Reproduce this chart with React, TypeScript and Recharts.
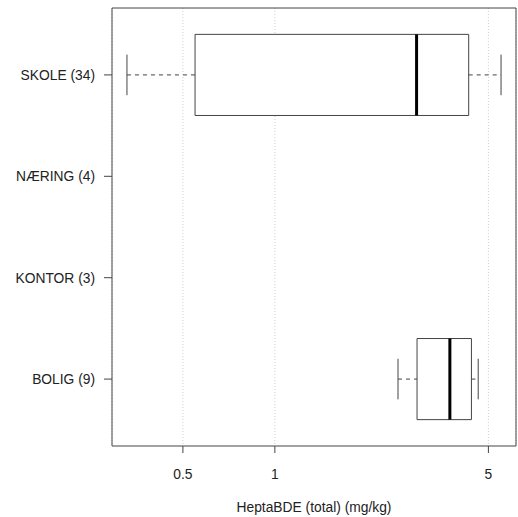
import React from "react";
import {
  ComposedChart,
  XAxis,
  YAxis,
  CartesianGrid,
  ReferenceArea,
  ReferenceLine,
} from "recharts";

// Groups, bottom to top (R puts group 1 at the bottom of a horizontal boxplot)
const groups = ["BOLIG (9)", "KONTOR (3)", "NÆRING (4)", "SKOLE (34)"];

// Box statistics per group, mg/kg (null = no box drawn)
const whiskerLow: (number | null)[] = [2.53, null, null, 0.328];
const q1: (number | null)[] = [2.92, null, null, 0.548];
const median: (number | null)[] = [3.74, null, null, 2.91];
const q3: (number | null)[] = [4.4, null, null, 4.31];
const whiskerHigh: (number | null)[] = [4.63, null, null, 5.5];

const xTicks = [0.5, 1, 5];
const yTicks = [1, 2, 3, 4];

const FONT = "'Liberation Sans', Arial, sans-serif";
const LINE = "#444";
const TEXT = "#222";

// R-style axis range: data range padded by 4% on each side (on the log scale)
const lows = whiskerLow.filter((v): v is number => v !== null);
const highs = whiskerHigh.filter((v): v is number => v !== null);
const logLo = Math.log10(Math.min(...lows));
const logHi = Math.log10(Math.max(...highs));
const pad = (logHi - logLo) * 0.04;
const xDomain: [number, number] = [10 ** (logLo - pad), 10 ** (logHi + pad)];
const yDomain: [number, number] = [0.5 - 0.16, groups.length + 0.5 + 0.16];

const BOX_HALF = 0.4;
const CAP_HALF = 0.2;

export default function App() {
  const boxes = groups
    .map((_, i) => i)
    .filter((i) => median[i] !== null);

  return (
    <div style={{ position: "absolute", left: 0, top: 0, background: "#fff" }}>
      <ComposedChart
        width={518}
        height={517}
        data={[]}
        margin={{ top: 8, right: 2, bottom: 0, left: 0 }}
        style={{ fontFamily: FONT }}
      >
        <CartesianGrid
          horizontal={false}
          stroke="#cfcfcf"
          strokeDasharray="1 2"
        />
        <XAxis
          type="number"
          dataKey="x"
          scale="log"
          domain={xDomain}
          allowDataOverflow
          ticks={xTicks}
          axisLine={false}
          tickLine={{ stroke: LINE }}
          tickSize={7}
          tickMargin={16}
          height={71}
          tick={{ fill: TEXT, fontSize: 13.8, fontFamily: FONT }}
          label={{
            value: "HeptaBDE (total) (mg/kg)",
            position: "insideBottom",
            offset: 5,
            fill: TEXT,
            fontSize: 13.8,
            fontFamily: FONT,
          }}
        />
        <YAxis
          type="number"
          dataKey="y"
          domain={yDomain}
          allowDataOverflow
          ticks={yTicks}
          tickFormatter={(v: number) => groups[v - 1]}
          axisLine={false}
          tickLine={{ stroke: LINE }}
          tickSize={8}
          tickMargin={9}
          width={112}
          tick={{ fill: TEXT, fontSize: 13.8, fontFamily: FONT }}
        />

        {boxes.map((i) => {
          const y = i + 1;
          return (
            <React.Fragment key={groups[i]}>
              {/* whiskers */}
              <ReferenceLine
                segment={[
                  { x: whiskerLow[i]!, y },
                  { x: q1[i]!, y },
                ]}
                stroke={LINE}
                strokeDasharray="4 4"
              />
              <ReferenceLine
                segment={[
                  { x: q3[i]!, y },
                  { x: whiskerHigh[i]!, y },
                ]}
                stroke={LINE}
                strokeDasharray="4 4"
              />
              <ReferenceLine
                segment={[
                  { x: whiskerLow[i]!, y: y - CAP_HALF },
                  { x: whiskerLow[i]!, y: y + CAP_HALF },
                ]}
                stroke={LINE}
              />
              <ReferenceLine
                segment={[
                  { x: whiskerHigh[i]!, y: y - CAP_HALF },
                  { x: whiskerHigh[i]!, y: y + CAP_HALF },
                ]}
                stroke={LINE}
              />
              {/* box */}
              <ReferenceArea
                x1={q1[i]!}
                x2={q3[i]!}
                y1={y - BOX_HALF}
                y2={y + BOX_HALF}
                fill="#fff"
                fillOpacity={1}
                stroke={LINE}
                strokeOpacity={1}
              />
              {/* median */}
              <ReferenceLine
                segment={[
                  { x: median[i]!, y: y - BOX_HALF },
                  { x: median[i]!, y: y + BOX_HALF },
                ]}
                stroke="#000"
                strokeWidth={3}
              />
            </React.Fragment>
          );
        })}

        {/* plot frame */}
        <ReferenceArea
          x1={xDomain[0]}
          x2={xDomain[1]}
          y1={yDomain[0]}
          y2={yDomain[1]}
          fill="none"
          stroke={LINE}
          strokeOpacity={1}
          ifOverflow="visible"
        />
      </ComposedChart>
    </div>
  );
}
